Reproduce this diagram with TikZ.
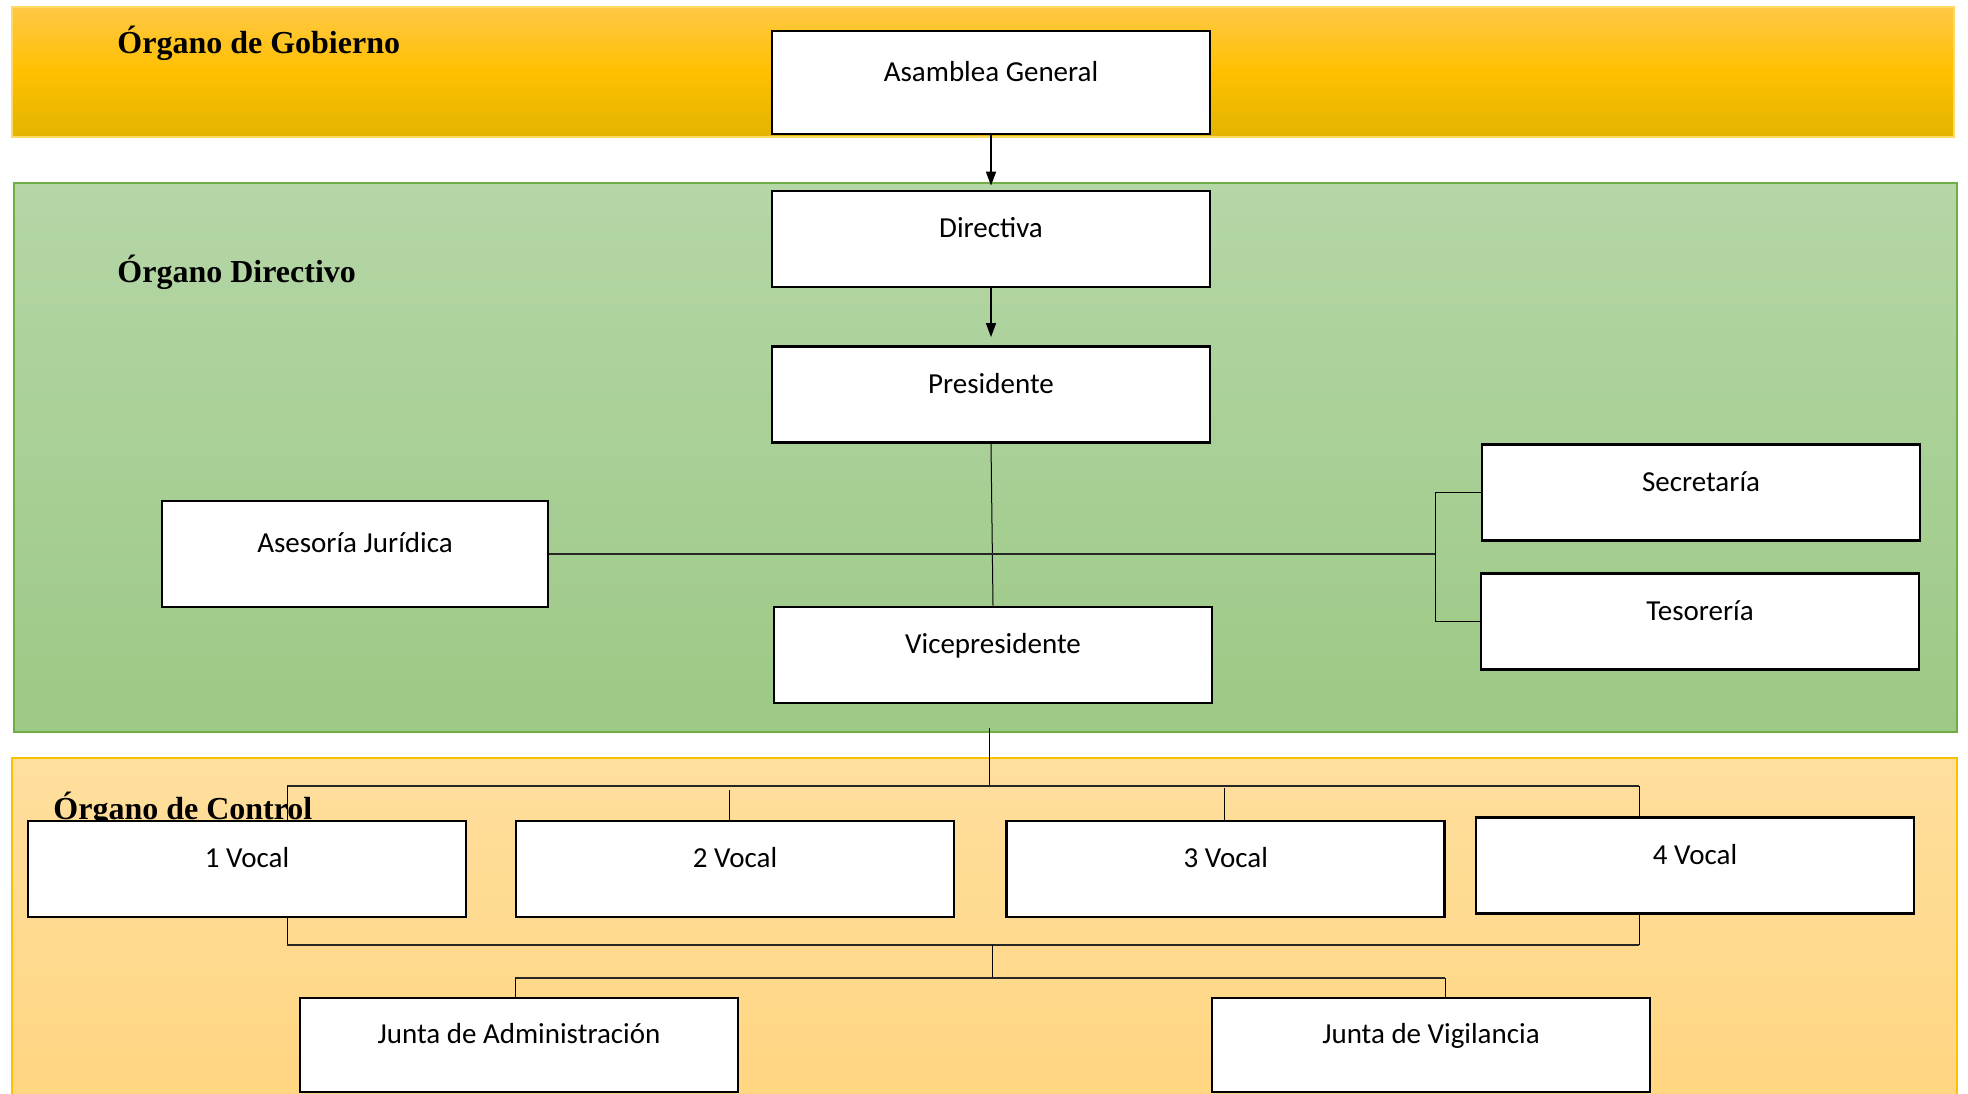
\documentclass[tikz,border=0pt]{standalone}
\usepackage{fontspec}
\setmainfont{Carlito}
\newfontfamily\titlefont{Liberation Serif}
\usetikzlibrary{arrows.meta,positioning,calc}

\definecolor{goldtop}{HTML}{FFC846}
\definecolor{goldmid}{HTML}{FFC000}
\definecolor{goldbot}{HTML}{E2B400}
\definecolor{goldline}{HTML}{FFD966}
\definecolor{greentop}{HTML}{B5D6A7}
\definecolor{greenbot}{HTML}{9CC985}
\definecolor{greenline}{HTML}{70AD47}
\definecolor{orgtop}{HTML}{FFDF9E}
\definecolor{orgbot}{HTML}{FFD580}
\definecolor{orgline}{HTML}{FFC000}

\begin{document}
\begin{tikzpicture}[
  x=0.5pt, y=-0.5pt,
  font=\fontsize{14.5}{17}\selectfont,
  box/.style={draw, line width=1.4pt, fill=white, inner sep=0pt,
    minimum width=219pt, minimum height=48pt, text height=10pt, text depth=11.5pt},
  ttl/.style={font=\titlefont\bfseries\fontsize{16}{19}\selectfont, anchor=base west, inner sep=0pt},
  con/.style={line width=0.5pt},
  bus/.style={line width=0.8pt, black!85},
  arr/.style={line width=0.7pt, ->},
  >={Triangle[length=7pt,width=5pt]}
]
\useasboundingbox (0,0) rectangle (1968,1093);
\clip (0,0) rectangle (1968,1093);

% bands
\shade[top color=goldtop, bottom color=goldbot, middle color=goldmid, draw=goldline, line width=0.6pt]
  (12,7) rectangle (1954,137);
\shade[top color=greentop, bottom color=greenbot, draw=greenline, line width=0.6pt]
  (14,183) rectangle (1957,732);
\shade[top color=orgtop, bottom color=orgbot, draw=orgline, line width=0.6pt]
  (12,758) rectangle (1957,1110);

\node[ttl] (tgob) at (117,53) {Órgano de Gobierno};
\node[ttl] (tdir) at (117,282) {Órgano Directivo};
\node[ttl] (tctl) at (53,819) {Órgano de Control};

% junction points
\coordinate (jn) at (1435,554);
\coordinate (ctl) at (989,728);
\coordinate (busA) at (989,786);
\coordinate (busAL) at (287,786);
\coordinate (busAR) at (1639,786);
\coordinate (dropB) at (729,790);
\coordinate (dropC) at (1224,788);
\coordinate (busBL) at (287,945);
\coordinate (busBR) at (1639,945);
\coordinate (busBM) at (992,945);
\coordinate (busCM) at (992,978);
\coordinate (busCL) at (515,978);
\coordinate (busCR) at (1445,978);

% boxes
\node[box, minimum height=51.5pt] (asam) at (991,82.5) {Asamblea General};
\node[box] (dir) at (991,239) {Directiva};
\node[box] (pres) at (991,394.5) {Presidente};
\node[box, minimum width=193pt, minimum height=53pt] (ases) at (355,554) {Asesoría Jurídica};
\node[box] (vice) at (993,655) {Vicepresidente};
\node[box] (sec) at (1701,492.5) {Secretaría};
\node[box] (tes) at (1700,621.5) {Tesorería};
\node[box] (v1) at (247,869) {1 Vocal};
\node[box, right=23.6pt of v1] (v2) {2 Vocal};
\node[box, right=25pt of v2] (v3) {3 Vocal};
\node[box] (v4) at (1695,865.5) {4 Vocal};
\node[box, minimum height=47pt] (ja) at (519,1045) {Junta de Administración};
\node[box, minimum height=47pt] (jv) at (1431,1045) {Junta de Vigilancia};

% connectors
\draw[arr, shorten >=2pt] (asam) -- (dir);
\draw[arr, shorten >=4pt] (dir) -- (pres);
\draw[con] (pres.south) -- (vice.north);
\draw[bus] (ases.east) -- (ases.east -| jn);
\draw[con] (sec.west) -- (sec.west -| jn) -- (tes.west -| jn) -- (tes.west);
\draw[con] (ctl) -- (busA);
\draw[bus] (busAL) -- (busAR);
\draw[con] (busAL) -- (busAL |- v1.north);
\draw[con] (dropB) -- (dropB |- v2.north);
\draw[con] (dropC) -- (dropC |- v3.north);
\draw[con] (busAR) -- (busAR |- v4.north);
\draw[con] (busBL |- v1.south) -- (busBL);
\draw[con] (busBR |- v4.south) -- (busBR);
\draw[bus] (busBL) -- (busBR);
\draw[con] (busBM) -- (busCM);
\draw[bus] (busCL) -- (busCR);
\draw[con] (busCL) -- (busCL |- ja.north);
\draw[con] (busCR) -- (busCR |- jv.north);
\end{tikzpicture}
\end{document}
